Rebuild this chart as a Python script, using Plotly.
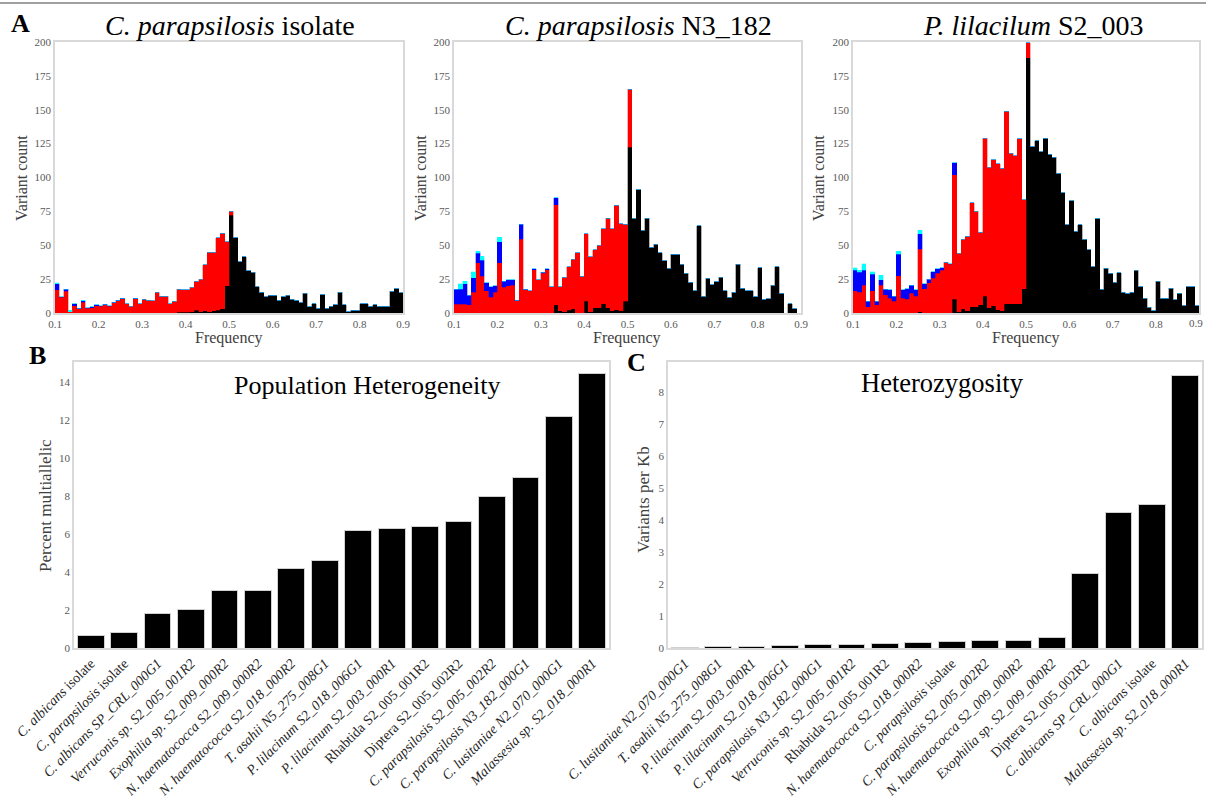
import plotly.graph_objects as go

W, H = 1206, 806
FONT = "Liberation Serif"

def X(px):
    return px / W

def Y(py):
    return 1 - py / H

# ---------------- Data: allele-frequency histograms (80 bins, 0.10-0.90) ----------------
freq_bins = [round(0.105 + 0.01 * i, 3) for i in range(80)]
freq_ticks = [0.1, 0.2, 0.3, 0.4, 0.5, 0.6, 0.7, 0.8, 0.9]
freq_ticktext = ["0.1", "0.2", "0.3", "0.4", "0.5", "0.6", "0.7", "0.8", "0.9"]

# C. parapsilosis isolate
black1 = [0] * 28 + [0.5, 0.5, 0.5, 1, 2, 1, 1.5, 1, 1.5, 2, 3, 20, 72,
                     55.5, 38, 41.5, 31, 30, 19.5, 15.5, 12, 13, 13, 9.5, 12, 13, 10, 9.5,
                     8, 14.5, 4.5, 7, 3.5, 13.5, 3.5, 5, 6, 15.5, 6, 1, 2, 2, 7, 7, 5, 6,
                     5, 5, 5, 16, 18, 15]
red1 = [17, 11.5, 16, 1, 5.5, 3, 8, 3.5, 4, 5.5, 5, 6, 5, 7.5, 9, 10.5, 7, 5, 10.5, 7,
        10, 9.5, 9, 15.5, 12.5, 12.5, 7, 8.5, 17, 16.5, 16.5, 18, 21.5, 24, 34, 44, 43.5,
        53.5, 56, 32.5, 3] + [0] * 39
blue1 = [4.5, 0.5, 1.5, 0, 1.5, 0.5, 1, 0.5, 0.5, 0.5, 0.5, 0.5, 0.5, 0.5, 0.5, 0.5, 0, 0,
         0.5] + [0] * 61
cyan1 = [1, 0, 0, 1, 0, 0, 0.5] + [0] * 73

# C. parapsilosis N3_182
black2 = [0] * 23 + [6, 1.5, 1, 2, 3, 0, 0, 8.5, 1, 4, 4, 7, 4, 1.5, 2.5, 1.5, 8.5, 122.5,
                     70, 90.8, 61, 70, 48.5, 50.7, 44.5, 38.4, 33, 43.5, 43.5, 36, 29.3,
                     22.6, 16.5, 64.5, 12.5, 25.6, 20.7, 23, 26.3, 16.5, 11.6, 15.3, 36,
                     18.2, 16.5, 16.5, 12, 33.5, 10, 10.6, 20.4, 34, 14.5, 0, 7, 3, 0]
red2 = [6.5, 6.5, 6.5, 6, 15.5, 37, 27, 16.5, 11.5, 15.5, 37, 19, 20, 20.5, 9, 54.5, 17,
        16.5, 32, 24.5, 29.5, 32, 19.5, 74, 18, 25.5, 32, 36.5, 44.5, 27, 50, 40.5, 42.5,
        46, 55, 66, 60.5, 77, 64.5, 57, 42.5] + [0] * 39
blue2 = [11, 11, 15, 7, 10.5, 7, 12, 6, 8, 4.5, 15.5, 4.5, 4.5, 4, 0.5, 11, 0.5, 0, 0.5, 0,
         0.5, 0.5, 0, 5] + [0] * 56
cyan2 = [0, 4, 2, 0, 4.5, 1.5, 3, 0, 0, 0, 3.5] + [0] * 69

# P. lilacilum S2_003
black3 = [0] * 15 + [1, 0, 0, 0, 0, 0, 0, 0, 10, 1, 3, 1.5, 4.5, 4.5, 6, 12.5, 4, 5.5, 2.5,
                     1.5, 7, 7, 7, 7, 18, 188.5,
                     122.8, 127, 119, 129, 117, 115, 103, 88.8, 65, 82.7, 60.5, 65, 54.4,
                     46.5, 34.2, 69.6, 17.7, 33, 29.3, 22.6, 29.8, 15.5, 14.5, 15.3, 31.7,
                     19.4, 10.8, 4.4, 1.5, 23.6, 10.8, 10.8, 18.2, 9.6, 14.5, 5.2, 19.4,
                     19.4, 5.2]
red3 = [16.5, 15.5, 20.5, 4.5, 16.5, 6, 20.5, 13.5, 11, 8.5, 27.5, 11, 10, 14.5, 12.5, 46,
        18, 22.5, 25.5, 29.5, 31.5, 37.5, 36, 92, 43, 51.5, 55, 77, 70.5, 53.5, 116.5,
        103.5, 107.5, 107.5, 105.5, 142, 111, 109, 121.5, 65.5, 11] + [0] * 39
blue3 = [15, 14.5, 11, 4, 12, 2.5, 4, 4, 6, 4, 16, 6, 8, 6, 4.5, 11.5, 3.5, 2.5, 5, 3, 2,
         0, 0.5, 9] + [0] * 56
cyan3 = [2, 1.5, 5, 0, 2, 0, 3.5, 0, 0, 0, 2, 0, 0, 0, 0, 2.5] + [0] * 64

hist_titles = ["<i>C. parapsilosis</i> isolate", "<i>C. parapsilosis</i> N3_182",
               "<i>P. lilacilum</i> S2_003"]

# ---------------- Data: bar charts ----------------
het_labels = ["C. albicans isolate", "C. parapsilosis isolate", "C. albicans SP_CRL_000G1",
              "Verruconis sp. S2_005_001R2", "Exophilia sp. S2_009_000R2",
              "N. haematococca S2_009_000R2", "N. haematococca S2_018_000R2",
              "T. asahii N5_275_008G1", "P. lilacinum S2_018_006G1",
              "P. lilacinum S2_003_000R1", "Rhabtida S2_005_001R2", "Diptera S2_005_002R2",
              "C. parapsilosis S2_005_002R2", "C. parapsilosis N3_182_000G1",
              "C. lusitaniae N2_070_000G1", "Malassesia sp. S2_018_000R1"]
het_values = [0.65, 0.82, 1.84, 2.0, 3.0, 3.0, 4.19, 4.62, 6.18, 6.29, 6.39, 6.67, 7.97,
              8.97, 12.2, 14.43]

zyg_labels = ["C. lusitaniae N2_070_000G1", "T. asahii N5_275_008G1",
              "P. lilacinum S2_003_000R1", "P. lilacinum S2_018_006G1",
              "C. parapsilosis N3_182_000G1", "Verruconis sp. S2_005_001R2",
              "Rhabtida S2_005_001R2", "N. haematococca S2_018_000R2",
              "C. parapsilosis isolate", "C. parapsilosis S2_005_002R2",
              "N. haematococca S2_009_000R2", "Exophilia sp. S2_009_000R2",
              "Diptera S2_005_002R2", "C. albicans SP_CRL_000G1", "C. albicans isolate",
              "Malassesia sp. S2_018_000R1"]
zyg_values = [0.02, 0.06, 0.06, 0.07, 0.11, 0.11, 0.14, 0.17, 0.21, 0.22, 0.25, 0.32, 2.34,
              4.24, 4.49, 8.53]

for arr in [black1, red1, blue1, cyan1, black2, red2, blue2, cyan2, black3, red3, blue3, cyan3]:
    assert len(arr) == 80, len(arr)


def fmt(name):
    if name.endswith(" isolate"):
        return "<i>" + name[:-8] + "</i> isolate"
    if name.startswith("Rhabtida") or name.startswith("Diptera"):
        return name
    return "<i>" + name + "</i>"


fig = go.Figure()

hist_sets = [(black1, red1, blue1, cyan1), (black2, red2, blue2, cyan2),
             (black3, red3, blue3, cyan3)]
colors = ["#000000", "#FF0000", "#0000FF", "#00FFFF"]
hist_px = [(55, 403), (454, 801), (853, 1199)]

for k, comps in enumerate(hist_sets):
    ax = "" if k == 0 else str(k + 1)
    for comp, col in zip(comps, colors):
        fig.add_trace(go.Bar(x=freq_bins, y=comp, width=0.01, marker_color=col,
                             marker_line_color=col, marker_line_width=0.3,
                             xaxis="x" + ax, yaxis="y" + ax, showlegend=False))

fig.add_trace(go.Bar(x=het_labels, y=het_values, width=0.8, marker_color="#000000",
                     marker_line_color="#d0d0d0", marker_line_width=1,
                     xaxis="x4", yaxis="y4", showlegend=False))
fig.add_trace(go.Bar(x=zyg_labels, y=zyg_values, width=0.8, marker_color="#000000",
                     marker_line_color="#d0d0d0", marker_line_width=1,
                     xaxis="x5", yaxis="y5", showlegend=False))

tickfont = dict(family=FONT, size=11, color="#595959")
catfont = dict(family=FONT, size=14, color="#262626")
box = dict(showline=True, mirror=True, linecolor="#d9d9d9", linewidth=1.5,
           showgrid=False, zeroline=False, ticks="", automargin=False)

layout = dict(width=W, height=H, margin=dict(l=0, r=0, t=0, b=0, autoexpand=False),
              autosize=False, barmode="stack", plot_bgcolor="white", paper_bgcolor="white",
              font=dict(family=FONT))

for k, (x0, x1) in enumerate(hist_px):
    ax = "" if k == 0 else str(k + 1)
    layout["xaxis" + ax] = dict(domain=[X(x0), X(x1)], range=[0.1, 0.9], tickvals=freq_ticks,
                                ticktext=freq_ticktext, tickfont=tickfont, anchor="y" + ax,
                                **box)
    layout["yaxis" + ax] = dict(domain=[Y(313), Y(42)], range=[0, 200], dtick=25,
                                tickfont=tickfont, anchor="x" + ax, **box)

layout["xaxis4"] = dict(domain=[X(74), X(609)], type="category", range=[-0.5, 15.5],
                        tickvals=het_labels, ticktext=[fmt(s) for s in het_labels],
                        tickangle=-45, tickfont=catfont, anchor="y4", **box)
layout["yaxis4"] = dict(domain=[Y(648), Y(362)], range=[0, 15.05], dtick=2,
                        tickfont=tickfont, anchor="x4", **box)
layout["xaxis5"] = dict(domain=[X(668), X(1202)], type="category", range=[-0.5, 15.5],
                        tickvals=zyg_labels, ticktext=[fmt(s) for s in zyg_labels],
                        tickangle=-45, tickfont=catfont, anchor="y5", **box)
layout["yaxis5"] = dict(domain=[Y(648), Y(362)], range=[0, 8.95], dtick=1,
                        tickfont=tickfont, anchor="x5", **box)

ann = []


def A(text, x, y, size, color="#000000", angle=0, xanchor="center"):
    ann.append(dict(text=text, x=X(x), y=Y(y), xref="paper", yref="paper", showarrow=False,
                    xanchor=xanchor, yanchor="middle", textangle=angle,
                    font=dict(family=FONT, size=size, color=color)))


title_x = [230, 638, 1033]
for k, t in enumerate(hist_titles):
    A(t, title_x[k], 25, 28)
for x in [22, 421, 819]:
    A("Variant count", x, 178, 16, "#404040", -90)
for x in [229, 627, 1026]:
    A("Frequency", x, 338, 16, "#404040")
# last frequency tick of the right-hand histogram sits on the page edge
A("0.9", 1205, 323, 11, "#595959", 0, "right")

A("<b>A</b>", 20, 24, 26)
A("<b>B</b>", 37, 356, 26)
A("<b>C</b>", 636, 362, 26)
A("Population Heterogeneity", 367, 385, 26)
A("Heterozygosity", 942, 383, 26.5)
A("Percent multiallelic", 45, 505, 17, "#404040", -90)
A("Variants per Kb", 643, 500, 17, "#404040", -90)

layout["annotations"] = ann
layout["shapes"] = [dict(type="line", xref="paper", yref="paper", x0=0, x1=1, y0=Y(3), y1=Y(3),
                         line=dict(color="#808080", width=1.5))]

fig.update_layout(**layout)
fig.write_html("out.html", config={"displayModeBar": False},
               post_script="document.body.style.margin='0px';"
                           "document.body.style.overflow='hidden';")
